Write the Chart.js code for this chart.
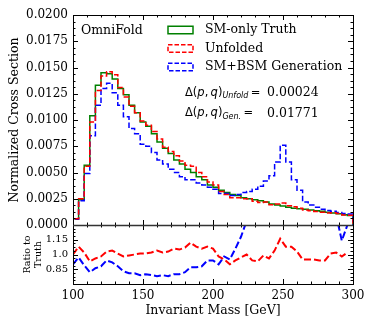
<!DOCTYPE html>
<html>
<head>
<meta charset="utf-8">
<script src="https://cdn.jsdelivr.net/npm/chart.js@4.4.1/dist/chart.umd.min.js"></script>
<style>
  html, body { margin: 0; padding: 0; background: #fff; }
  #wrap { width: 374px; height: 328px; }
</style>
</head>
<body>
<div id="wrap"><canvas id="chart" width="374" height="328"></canvas></div>
<script>
// bin edges of the invariant mass histograms (GeV)
const binEdges = [100, 104, 108, 112, 116, 120, 124, 128, 132, 136, 140, 144, 148, 152, 156, 160, 164, 168,
  172, 176, 180, 184, 188, 192, 196, 200, 204, 208, 212, 216, 220, 224, 228, 232, 236, 240, 244, 248,
  252, 256, 260, 264, 268, 272, 276, 280, 284, 288, 292, 296, 300];

const smTruth = [0.0006, 0.0024, 0.0057, 0.0104, 0.0133, 0.0145, 0.0144, 0.0139, 0.0130, 0.0124,
  0.0114, 0.0107, 0.0098, 0.0094, 0.0087, 0.0079, 0.0073, 0.0068, 0.0062, 0.0058,
  0.0053, 0.0050, 0.0046, 0.0043, 0.0038, 0.0036, 0.0033, 0.0031, 0.0029, 0.0028,
  0.0026, 0.0025, 0.0024, 0.0023, 0.0022, 0.0020, 0.0019, 0.0018, 0.0017, 0.0016,
  0.00155, 0.0015, 0.00142, 0.00135, 0.0013, 0.00122, 0.00115, 0.00108, 0.00098, 0.0009];

const unfolded = [0.0006, 0.0025, 0.0056, 0.0098, 0.0128, 0.0142, 0.0146, 0.0143, 0.0131, 0.0122,
  0.0113, 0.0107, 0.0099, 0.0095, 0.0089, 0.0082, 0.0074, 0.0070, 0.0066, 0.0061,
  0.0057, 0.0056, 0.0050, 0.0046, 0.0041, 0.0038, 0.0032, 0.0029, 0.0026, 0.0026,
  0.0025, 0.0025, 0.00226, 0.00214, 0.00218, 0.00192, 0.0020, 0.0021, 0.00184, 0.00173,
  0.0016, 0.00143, 0.00135, 0.00128, 0.00122, 0.00115, 0.00116, 0.0011, 0.00096, 0.00092];

const bsmGen = [0.00055, 0.0023, 0.0049, 0.0085, 0.0114, 0.0130, 0.0135, 0.0126, 0.0114, 0.0103,
  0.0092, 0.0087, 0.0077, 0.0075, 0.0069, 0.0062, 0.0058, 0.0053, 0.0050, 0.0046,
  0.0043, 0.0043, 0.0040, 0.0038, 0.0036, 0.0034, 0.0030, 0.0030, 0.0028, 0.0029,
  0.0031, 0.0032, 0.0034, 0.0037, 0.0042, 0.0047, 0.0060, 0.0076, 0.0060, 0.0043,
  0.0033, 0.0022, 0.0019, 0.0017, 0.0015, 0.00137, 0.0013, 0.0012, 0.0011, 0.00105];

// ratio panel, one point per bin (drawn at the bin's lower edge)
const ratioUnfold = [1.00, 1.08, 1.02, 0.93, 0.96, 0.98, 1.03, 1.04, 1.01, 0.98,
  0.99, 1.00, 1.01, 1.01, 1.02, 1.04, 1.02, 1.03, 1.06, 1.05,
  1.07, 1.12, 1.08, 1.06, 1.08, 1.06, 0.98, 0.95, 0.90, 0.94,
  0.97, 1.00, 0.94, 0.93, 0.99, 0.96, 1.04, 1.16, 1.08, 1.08,
  1.03, 0.95, 0.95, 0.95, 0.94, 0.94, 1.01, 1.02, 0.98, 1.02];

const ratioGen = [0.90, 0.97, 0.89, 0.82, 0.86, 0.88, 0.94, 0.92, 0.88, 0.83,
  0.81, 0.81, 0.79, 0.80, 0.79, 0.78, 0.79, 0.78, 0.80, 0.80,
  0.82, 0.87, 0.87, 0.88, 0.94, 0.94, 0.90, 0.98, 0.95, 1.06,
  1.18, 1.34, 1.45, 1.6, 1.9, 2.3, 3.1, 4.2, 3.5, 2.6,
  2.1, 1.5, 1.4, 1.38, 1.36, 1.36, 1.38, 1.4, 1.14, 1.30];

const xTicks = [100, 150, 200, 250, 300];
const yTicks = [0, 0.0025, 0.005, 0.0075, 0.01, 0.0125, 0.015, 0.0175, 0.02];
const ratioTicks = [0.85, 1.0, 1.15];
const ratioTickLabels = ["0.85", "1.0", "1.15"];
const ratioFrameTicks = [0.7, 0.85, 1.0, 1.15, 1.3];

const legendLabels = ["SM-only Truth", "Unfolded", "SM+BSM Generation"];
const distances = [["Unfold", "0.00024"], ["Gen.", "0.01771"]];

const GREEN = "#008000", RED = "#ff0000", BLUE = "#0000ff";
const SERIF = '"DejaVu Serif", serif';
const SANS = '"DejaVu Sans", sans-serif';

const toSteps = (vals) => {
  const pts = [{ x: binEdges[0], y: 0 }];
  vals.forEach((v, i) => pts.push({ x: binEdges[i], y: v }));
  pts.push({ x: binEdges[vals.length], y: vals[vals.length - 1] });
  pts.push({ x: binEdges[vals.length], y: 0 });
  return pts;
};
const toRatio = (vals) => vals.map((v, i) => ({ x: binEdges[i], y: v }));

const histStyle = { pointRadius: 0, borderWidth: 1.5, fill: false, stepped: true, yAxisID: "y" };
const ratioStyle = { pointRadius: 0, borderWidth: 2, fill: false, yAxisID: "yr", borderDash: [7, 3] };

// minor ticks between majors
const minors = (majors, n) => {
  const out = [];
  for (let i = 0; i < majors.length - 1; i++) {
    const step = (majors[i + 1] - majors[i]) / n;
    for (let j = 1; j < n; j++) out.push(majors[i] + j * step);
  }
  return out;
};

const panelPlugin = {
  id: "panels",
  beforeDatasetDraw(chart, args) {
    const ys = chart.scales[args.meta.yAxisID];
    const xs = chart.scales.x;
    const ctx = chart.ctx;
    ctx.save();
    ctx.beginPath();
    ctx.rect(xs.left, ys.top, xs.right - xs.left, ys.bottom - ys.top);
    ctx.clip();
  },
  afterDatasetDraw(chart) {
    chart.ctx.restore();
  },
  afterDatasetsDraw(chart) {
    const { ctx, scales } = chart;
    const xs = scales.x;
    const L = xs.left, R = xs.right;
    ctx.save();
    ctx.strokeStyle = "#000";
    ctx.lineWidth = 1;
    const tick = (x1, y1, x2, y2) => {
      ctx.beginPath();
      ctx.moveTo(x1, y1);
      ctx.lineTo(x2, y2);
      ctx.stroke();
    };
    const xMinor = minors(xTicks, 5);
    const panels = [
      [scales.y, yTicks, minors(yTicks, 4)],
      [scales.yr, ratioFrameTicks, minors(ratioFrameTicks, 4)]
    ];
    panels.forEach(([ys, maj, mnr]) => {
      const T = ys.top, B = ys.bottom;
      xTicks.forEach((v) => {
        const px = Math.round(xs.getPixelForValue(v)) + 0.5;
        tick(px, T, px, T + 5);
        tick(px, B, px, B - 5);
      });
      xMinor.forEach((v) => {
        const px = Math.round(xs.getPixelForValue(v)) + 0.5;
        tick(px, T, px, T + 2.5);
        tick(px, B, px, B - 2.5);
      });
      maj.forEach((v) => {
        const py = Math.round(ys.getPixelForValue(v)) + 0.5;
        tick(L, py, L + 5, py);
        tick(R, py, R - 5, py);
      });
      mnr.forEach((v) => {
        const py = Math.round(ys.getPixelForValue(v)) + 0.5;
        tick(L, py, L + 2.5, py);
        tick(R, py, R - 2.5, py);
      });
      ctx.strokeRect(Math.round(L) + 0.5, Math.round(T) + 0.5, Math.round(R - L), Math.round(B - T));
    });
    // shared edge between the panels
    ctx.lineWidth = 1.6;
    ctx.strokeStyle = "#333";
    const mid = Math.round(scales.y.bottom) + 0.5;
    tick(L, mid, R, mid);
    ctx.restore();
  },
  afterDraw(chart) {
    const { ctx, chartArea: a } = chart;
    ctx.save();
    ctx.fillStyle = "#000";
    ctx.textBaseline = "middle";
    ctx.font = "12.5px " + SERIF;
    ctx.fillText("OmniFold", a.left + 8, a.top + 16);

    // legend with outlined patches
    const colors = [GREEN, RED, BLUE];
    const bx = a.left + 95, bw = 25, bh = 7.5;
    legendLabels.forEach((lab, i) => {
      const cy = a.top + 15 + i * 18.5;
      ctx.save();
      ctx.strokeStyle = colors[i];
      ctx.lineWidth = 1.5;
      ctx.setLineDash(i === 0 ? [] : [4.5, 2]);
      ctx.strokeRect(bx, cy - bh / 2, bw, bh);
      ctx.restore();
      ctx.font = "12.5px " + SERIF;
      ctx.fillText(lab, bx + 37, cy);
    });

    // distance annotations
    distances.forEach(([sub, val], i) => {
      let x = a.left + 112;
      const y = a.top + 78 + i * 20.5;
      const parts = [
        ["\u0394(", "11.5px " + SANS, 0],
        ["p", "italic 11.5px " + SANS, 0],
        [",\u2009", "11.5px " + SANS, 0],
        ["q", "italic 11.5px " + SANS, 0],
        [")", "11.5px " + SANS, 0],
        [sub, "italic 8px " + SANS, 3],
        ["\u2009=", "11.5px " + SANS, 0]
      ];
      parts.forEach(([t, f, dy]) => {
        ctx.font = f;
        ctx.fillText(t, x, y + dy);
        x += ctx.measureText(t).width;
      });
      ctx.font = "12.5px " + SERIF;
      ctx.fillText(val, a.left + 194, y);
    });
    ctx.restore();
  }
};

const tickFont = { family: SERIF, size: 12 };
const titleFont = { family: SERIF, size: 12.5 };

new Chart(document.getElementById("chart"), {
  type: "line",
  data: {
    datasets: [
      { ...histStyle, label: legendLabels[1], data: toSteps(unfolded), borderColor: RED, borderDash: [5.5, 2.4], order: 1 },
      { ...histStyle, label: legendLabels[2], data: toSteps(bsmGen), borderColor: BLUE, borderDash: [5.5, 2.4], order: 2 },
      { ...histStyle, label: legendLabels[0], data: toSteps(smTruth), borderColor: GREEN, order: 3 },
      { ...ratioStyle, label: "Unfolded / Truth", data: toRatio(ratioUnfold), borderColor: RED, order: 4 },
      { ...ratioStyle, label: "Generation / Truth", data: toRatio(ratioGen), borderColor: BLUE, order: 5 }
    ]
  },
  options: {
    responsive: false,
    animation: false,
    events: [],
    layout: { padding: { left: 0, right: 21, top: 15, bottom: 0 } },
    plugins: { legend: { display: false }, tooltip: { enabled: false } },
    scales: {
      x: {
        type: "linear",
        position: "bottom",
        min: 100,
        max: 300,
        grid: { display: false, drawTicks: false },
        border: { display: false },
        afterBuildTicks: (s) => { s.ticks = xTicks.map((v) => ({ value: v })); },
        afterFit: (s) => { s.height = 44; },
        ticks: { font: tickFont, color: "#000", padding: 5, maxRotation: 0, autoSkip: false },
        title: { display: true, text: "Invariant Mass [GeV]", font: titleFont, color: "#000", padding: { top: 0, bottom: 10 } }
      },
      // ratio panel is listed first: Chart.js places the later stacked axis on top
      yr: {
        type: "linear",
        position: "left",
        stack: "panels",
        stackWeight: 59,
        min: 0.7,
        max: 1.3,
        grid: { display: false, drawTicks: false },
        border: { display: false },
        afterBuildTicks: (s) => { s.ticks = ratioTicks.map((v) => ({ value: v })); },
        afterFit: (s) => { s.width = 73; },
        ticks: {
          font: { family: SERIF, size: 10 }, color: "#000", padding: 5, autoSkip: false,
          callback: (v) => ratioTickLabels[ratioTicks.indexOf(v)]
        },
        title: { display: true, text: ["Ratio to", "Truth"], font: { family: SERIF, size: 9.5, lineHeight: 1.15 }, color: "#000", padding: { top: 22, bottom: 0 } }
      },
      y: {
        type: "linear",
        position: "left",
        stack: "panels",
        stackWeight: 210,
        min: 0,
        max: 0.02,
        grid: { display: false, drawTicks: false },
        border: { display: false },
        afterBuildTicks: (s) => { s.ticks = yTicks.map((v) => ({ value: v })); },
        afterFit: (s) => { s.width = 73; },
        ticks: { font: tickFont, color: "#000", padding: 5, autoSkip: false, callback: (v) => Number(v).toFixed(4) },
        title: { display: true, text: "Normalized Cross Section", font: titleFont, color: "#000", padding: { top: 7, bottom: 0 } }
      }
    }
  },
  plugins: [panelPlugin]
});
</script>
</body>
</html>
